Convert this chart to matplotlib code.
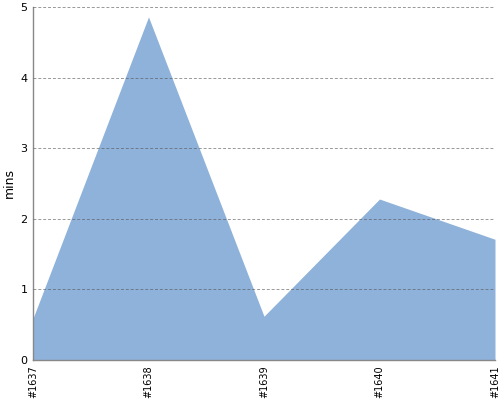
import matplotlib
matplotlib.use("Agg")
import matplotlib.pyplot as plt

builds = ["#1637", "#1638", "#1639", "#1640", "#1641"]
mins = [0.59, 4.86, 0.62, 2.28, 1.71]

fig = plt.figure(figsize=(5, 4), dpi=100)
ax = fig.add_axes([0.066, 0.1, 0.924, 0.8825])
x = list(range(len(builds)))
ax.fill_between(x, mins, 0, color="#8fb2da", linewidth=0, zorder=1)
ax.set_xlim(0, len(builds) - 1)
ax.set_ylim(0, 5)
ax.set_yticks([0, 1, 2, 3, 4, 5])
ax.set_xticks(x)
ax.set_xticklabels(builds, rotation=90, fontsize=7)
ax.tick_params(axis="y", labelsize=8, length=0, pad=4)
ax.tick_params(axis="x", length=0, pad=4)
ax.yaxis.grid(True, linestyle=(0, (3, 2)), color="#555555", linewidth=0.7, alpha=0.6, zorder=2)
ax.set_axisbelow(False)
for s in ["top", "right"]:
    ax.spines[s].set_visible(False)
for s in ["left", "bottom"]:
    ax.spines[s].set_color("#888888")
    ax.spines[s].set_linewidth(1)
ax.set_ylabel("mins", fontsize=9, labelpad=3)
fig.savefig("out.png", dpi=100)
